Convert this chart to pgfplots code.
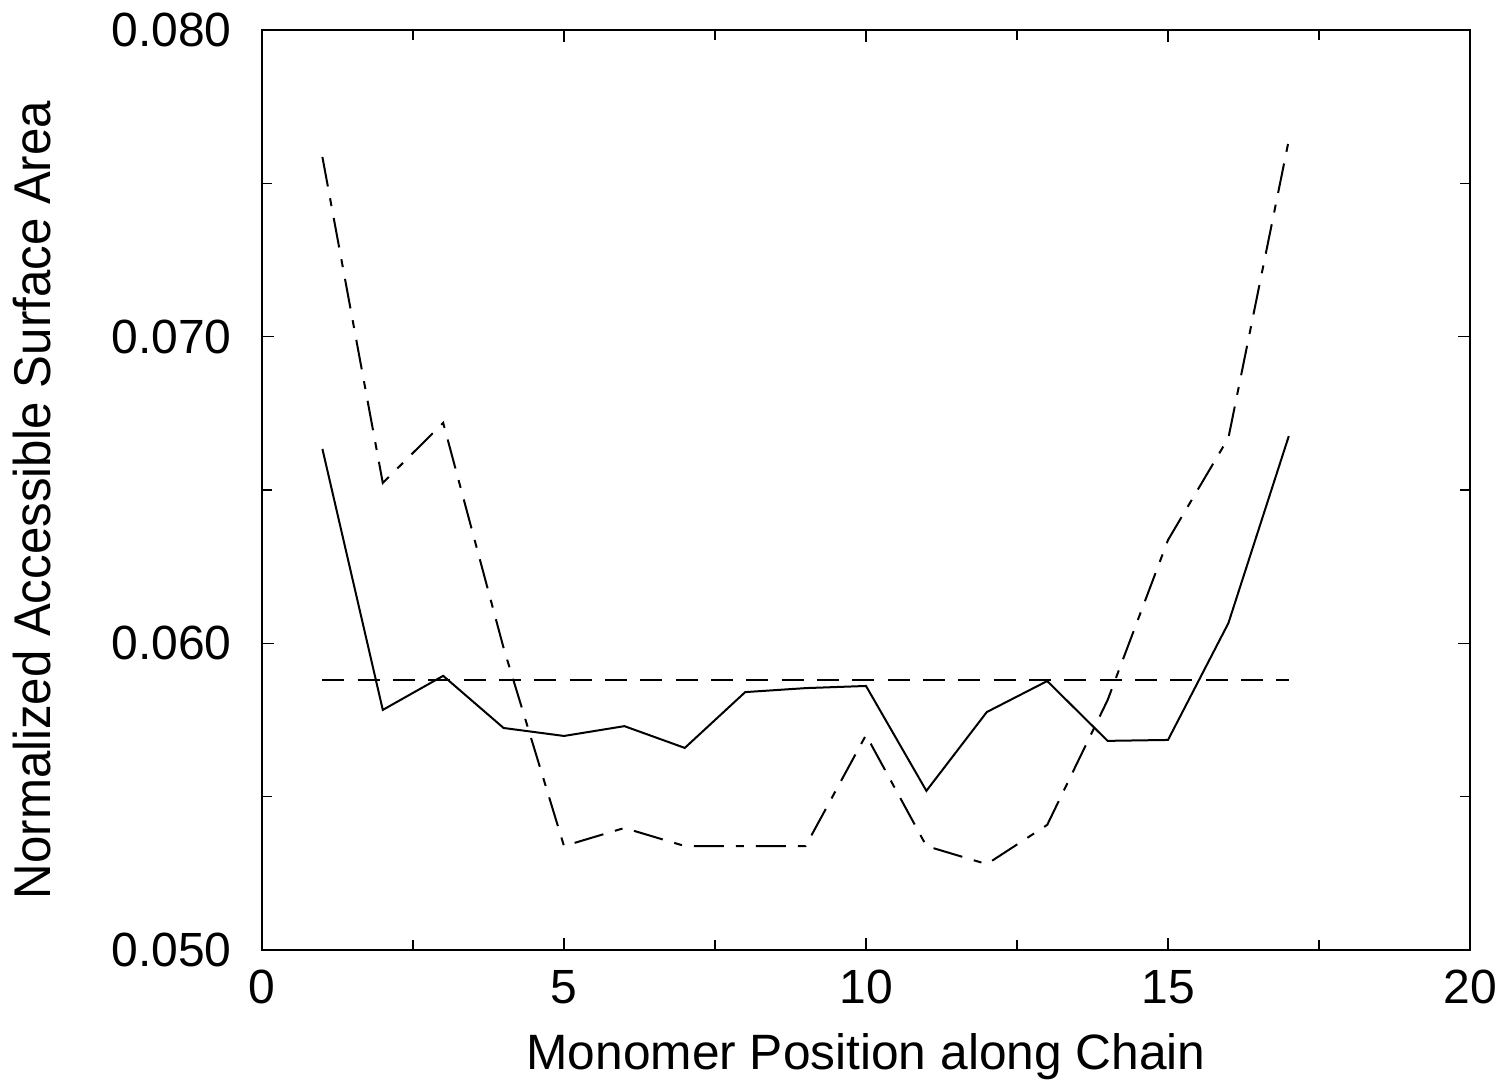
\documentclass[border=0pt]{standalone}
\usepackage{fontspec}
\setmainfont{Liberation Sans}
\usepackage{graphicx}
\usepackage{pgfplots}
\pgfplotsset{compat=1.18}
\usetikzlibrary{calc}
\begin{document}
\begin{tikzpicture}
\begin{axis}[
  scale only axis,
  width=362.4pt, height=276pt,
  xmin=0, xmax=20, ymin=0.050, ymax=0.080,
  xtick={0,5,10,15,20},
  minor xtick={2.5,7.5,12.5,17.5},
  ytick={0.050,0.060,0.070,0.080},
  minor ytick={0.055,0.065,0.075},
  tick align=inside,
  major tick length=3.6pt, minor tick length=3.0pt,
  tick style={black, line width=0.4pt},
  axis line style={line width=0.6pt},
  /pgf/number format/assume math mode=true,
  yticklabel={\pgfmathprintnumber[fixed,fixed zerofill,precision=3]{\tick}},
  scaled y ticks=false,
  ticklabel style={font=\fontsize{14.4}{16}\selectfont},
  xticklabel style={yshift=-2.6pt},
  yticklabel style={xshift=-5.6pt},
  xlabel={Monomer Position along Chain},
  ylabel={\scalebox{0.952}[1]{\fontsize{15.5}{18}\selectfont Normalized Accessible Surface Area}},
  label style={font=\fontsize{14.9}{18}\selectfont},
  xlabel style={at={(axis description cs:0.5,0)}, anchor=north, yshift=-21.4pt},
  ylabel style={yshift=11.4pt, xshift=-3pt},
]
\coordinate (sw) at (rel axis cs:0,0);
\coordinate (ne) at (rel axis cs:1,1);
\addplot[black, line width=0.6pt] coordinates {
(1,0.06634) (2,0.05783) (3,0.05894) (4,0.05724) (5,0.05698) (6,0.05730)
(7,0.05659) (8,0.05841) (9,0.05854) (10,0.05861) (11,0.05519) (12,0.05776)
(13,0.05877) (14,0.05682) (15,0.05685) (16,0.06066) (17,0.06676)};
\addplot[black, line width=0.6pt, dash pattern=on 9pt off 3.6pt on 2.4pt off 3.6pt] coordinates {
(1,0.07586) (2,0.06523) (3,0.06719) (4,0.05985) (5,0.05339) (6,0.05398)
(7,0.05339) (8,0.05339) (9,0.05339) (10,0.05701) (11,0.05339) (12,0.05280)
(13,0.05408) (14,0.05815) (15,0.06337) (16,0.06670) (17,0.07641)};
\addplot[black, line width=0.6pt, dash pattern=on 6.6pt off 4pt] coordinates {
(1,0.05880) (17,0.05880)};
\end{axis}
\pgfresetboundingbox
\path ($(sw)+(-78.6pt,-42pt)$) rectangle ($(ne)+(10.2pt,9pt)$);
\end{tikzpicture}
\end{document}
